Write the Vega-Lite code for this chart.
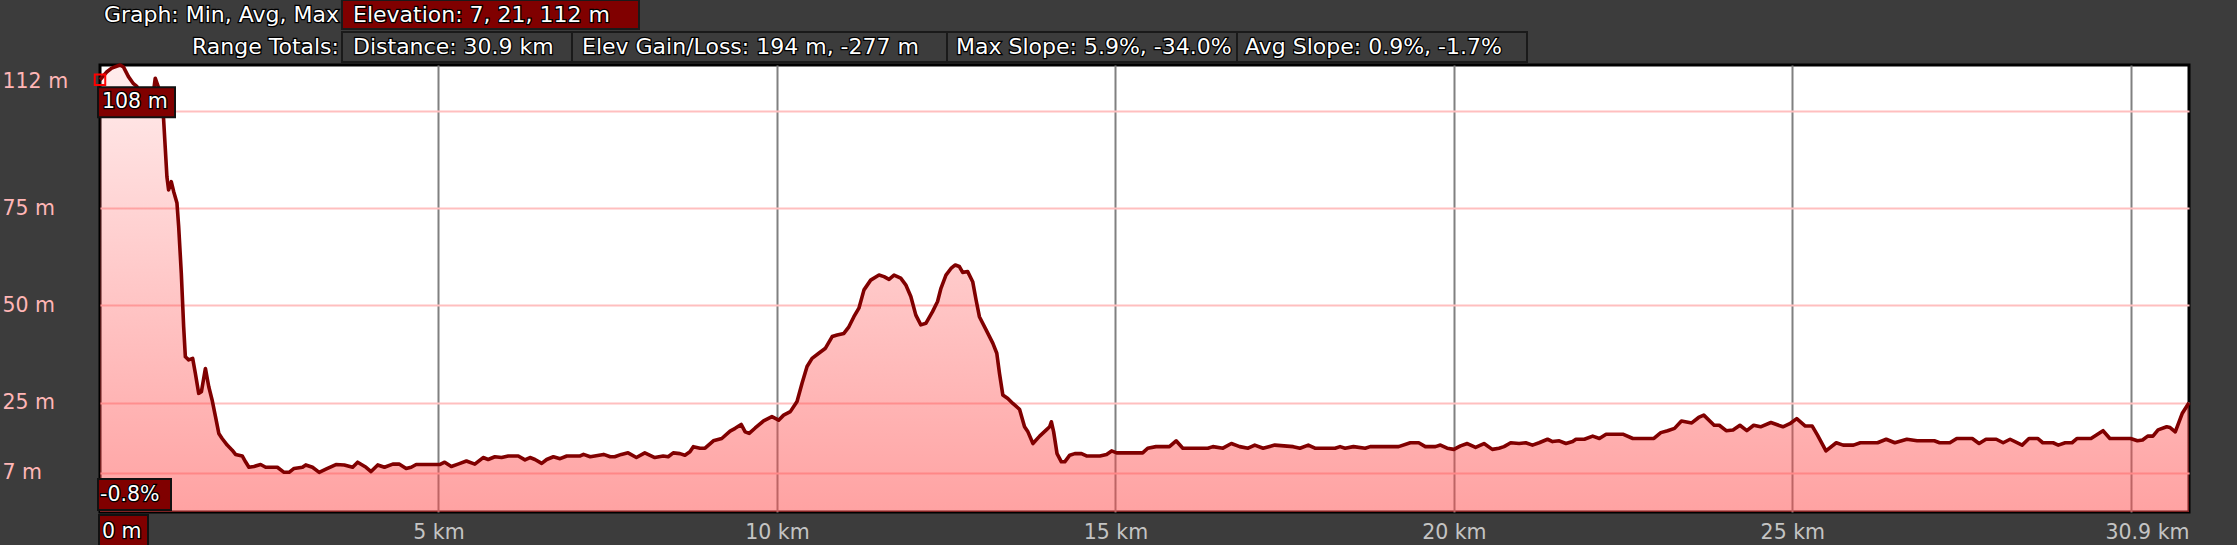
{
  "$schema": "https://vega.github.io/schema/vega-lite/v6.json",
  "width": 2089,
  "height": 447,
  "autosize": {"type": "none"},
  "padding": {"left": 100, "top": 65, "right": 48, "bottom": 33},
  "background": "#3c3c3c",
  "config": {
    "view": {"fill": "white", "stroke": "black", "strokeWidth": 3},
    "font": "DejaVu Sans"
  },
  "datasets": {
    "profile": [
      {"km":0,"elev":108},{"km":0.099,"elev":110},{"km":0.173,"elev":111},{"km":0.297,"elev":111.8},{"km":0.346,"elev":111.3},
      {"km":0.42,"elev":108.8},{"km":0.494,"elev":107},{"km":0.544,"elev":106.3},{"km":0.6,"elev":104},{"km":0.7,"elev":102.5},
      {"km":0.78,"elev":103.5},{"km":0.816,"elev":108.4},{"km":0.865,"elev":106},{"km":0.939,"elev":98},{"km":0.989,"elev":83},
      {"km":1.013,"elev":79.7},{"km":1.053,"elev":81.8},{"km":1.088,"elev":79.3},{"km":1.137,"elev":76.3},{"km":1.162,"elev":70.3},
      {"km":1.201,"elev":58.3},{"km":1.236,"elev":44.5},{"km":1.261,"elev":36.8},{"km":1.31,"elev":36},{"km":1.369,"elev":36.4},
      {"km":1.409,"elev":32.5},{"km":1.458,"elev":27.4},{"km":1.498,"elev":27.8},{"km":1.557,"elev":33.8},{"km":1.607,"elev":29.1},
      {"km":1.656,"elev":25.7},{"km":1.706,"elev":21.4},{"km":1.755,"elev":17.1},{"km":1.804,"elev":15.8},{"km":1.879,"elev":14.1},
      {"km":1.953,"elev":12.8},{"km":2.002,"elev":11.7},{"km":2.101,"elev":11.3},{"km":2.15,"elev":9.8},{"km":2.2,"elev":8.4},
      {"km":2.274,"elev":8.6},{"km":2.373,"elev":9.1},{"km":2.447,"elev":8.4},{"km":2.62,"elev":8.4},{"km":2.719,"elev":7.1},
      {"km":2.793,"elev":7.1},{"km":2.867,"elev":8.1},{"km":2.991,"elev":8.4},{"km":3.04,"elev":9},{"km":3.139,"elev":8.4},
      {"km":3.238,"elev":7.1},{"km":3.337,"elev":7.9},{"km":3.485,"elev":9.1},{"km":3.609,"elev":9},{"km":3.732,"elev":8.4},
      {"km":3.806,"elev":9.7},{"km":3.93,"elev":8.4},{"km":4.004,"elev":7.3},{"km":4.103,"elev":9},{"km":4.202,"elev":8.4},
      {"km":4.325,"elev":9.2},{"km":4.424,"elev":9.2},{"km":4.523,"elev":8.1},{"km":4.597,"elev":8.4},{"km":4.671,"elev":9.1},
      {"km":5.017,"elev":9.1},{"km":5.092,"elev":9.7},{"km":5.19,"elev":8.6},{"km":5.289,"elev":9.2},{"km":5.413,"elev":10},
      {"km":5.537,"elev":9.2},{"km":5.66,"elev":10.9},{"km":5.734,"elev":10.4},{"km":5.833,"elev":11.1},{"km":5.932,"elev":10.9},
      {"km":6.031,"elev":11.3},{"km":6.179,"elev":11.3},{"km":6.278,"elev":10.3},{"km":6.352,"elev":10.9},{"km":6.426,"elev":10.4},
      {"km":6.525,"elev":9.4},{"km":6.599,"elev":10.4},{"km":6.698,"elev":11.1},{"km":6.797,"elev":10.6},{"km":6.896,"elev":11.3},
      {"km":7.094,"elev":11.3},{"km":7.143,"elev":11.7},{"km":7.242,"elev":11.1},{"km":7.44,"elev":11.7},{"km":7.538,"elev":11.1},
      {"km":7.603,"elev":11.1},{"km":7.702,"elev":11.7},{"km":7.801,"elev":12.1},{"km":7.924,"elev":10.9},{"km":8.048,"elev":12.1},
      {"km":8.196,"elev":10.9},{"km":8.32,"elev":11.3},{"km":8.394,"elev":11.1},{"km":8.468,"elev":12.1},{"km":8.567,"elev":11.9},
      {"km":8.641,"elev":11.5},{"km":8.715,"elev":12.4},{"km":8.765,"elev":13.7},{"km":8.864,"elev":13.3},{"km":8.938,"elev":13.3},
      {"km":9.061,"elev":15.2},{"km":9.185,"elev":15.8},{"km":9.308,"elev":17.7},{"km":9.383,"elev":18.4},{"km":9.472,"elev":19.4},
      {"km":9.531,"elev":17.5},{"km":9.59,"elev":17.1},{"km":9.679,"elev":18.5},{"km":9.803,"elev":20.3},{"km":9.926,"elev":21.4},
      {"km":10.025,"elev":20.5},{"km":10.099,"elev":21.8},{"km":10.198,"elev":22.7},{"km":10.297,"elev":25.3},{"km":10.371,"elev":30},
      {"km":10.445,"elev":34.3},{"km":10.519,"elev":36.4},{"km":10.618,"elev":37.7},{"km":10.717,"elev":39},{"km":10.816,"elev":42},
      {"km":10.89,"elev":42.4},{"km":10.989,"elev":42.8},{"km":11.063,"elev":44.5},{"km":11.137,"elev":47.1},{"km":11.211,"elev":49.3},
      {"km":11.286,"elev":54},{"km":11.385,"elev":56.5},{"km":11.508,"elev":57.8},{"km":11.582,"elev":57.4},{"km":11.656,"elev":56.7},
      {"km":11.73,"elev":57.8},{"km":11.829,"elev":57},{"km":11.903,"elev":55.3},{"km":11.978,"elev":52.3},{"km":12.052,"elev":47.5},
      {"km":12.126,"elev":45},{"km":12.2,"elev":45.4},{"km":12.299,"elev":48.4},{"km":12.373,"elev":51},{"km":12.423,"elev":54.4},
      {"km":12.497,"elev":57.8},{"km":12.571,"elev":59.5},{"km":12.635,"elev":60.4},{"km":12.694,"elev":60},{"km":12.744,"elev":58.5},
      {"km":12.818,"elev":58.7},{"km":12.892,"elev":56.1},{"km":12.942,"elev":51.4},{"km":12.991,"elev":47.1},{"km":13.09,"elev":43.7},
      {"km":13.189,"elev":40.3},{"km":13.248,"elev":37.7},{"km":13.288,"elev":32.5},{"km":13.337,"elev":27},{"km":13.411,"elev":26.1},
      {"km":13.485,"elev":24.8},{"km":13.584,"elev":23.3},{"km":13.658,"elev":18.8},{"km":13.708,"elev":17.5},{"km":13.782,"elev":14.5},
      {"km":13.881,"elev":16.4},{"km":13.98,"elev":18},{"km":14.029,"elev":18.8},{"km":14.054,"elev":20.1},{"km":14.088,"elev":17.5},
      {"km":14.138,"elev":11.9},{"km":14.202,"elev":9.8},{"km":14.252,"elev":9.8},{"km":14.326,"elev":11.5},{"km":14.4,"elev":11.9},
      {"km":14.499,"elev":11.9},{"km":14.573,"elev":11.3},{"km":14.771,"elev":11.3},{"km":14.87,"elev":11.7},{"km":14.944,"elev":12.6},
      {"km":15.018,"elev":12.1},{"km":15.279,"elev":12.1},{"km":15.403,"elev":12.1},{"km":15.477,"elev":13.3},{"km":15.6,"elev":13.7},
      {"km":15.798,"elev":13.7},{"km":15.897,"elev":15.2},{"km":15.996,"elev":13.3},{"km":16.366,"elev":13.3},{"km":16.441,"elev":13.7},
      {"km":16.589,"elev":13.3},{"km":16.713,"elev":14.5},{"km":16.836,"elev":13.7},{"km":16.96,"elev":13.3},{"km":17.059,"elev":14.1},
      {"km":17.182,"elev":13.3},{"km":17.355,"elev":14.1},{"km":17.627,"elev":13.7},{"km":17.726,"elev":13.3},{"km":17.849,"elev":14.1},
      {"km":17.948,"elev":13.3},{"km":18.245,"elev":13.3},{"km":18.319,"elev":13.7},{"km":18.393,"elev":13.3},{"km":18.517,"elev":13.7},
      {"km":18.69,"elev":13.3},{"km":18.764,"elev":13.7},{"km":19.184,"elev":13.7},{"km":19.357,"elev":14.7},{"km":19.481,"elev":14.7},
      {"km":19.579,"elev":13.7},{"km":19.728,"elev":13.7},{"km":19.802,"elev":14.1},{"km":19.901,"elev":13.3},{"km":20,"elev":13},
      {"km":20.099,"elev":13.9},{"km":20.198,"elev":14.5},{"km":20.321,"elev":13.5},{"km":20.445,"elev":14.5},{"km":20.568,"elev":13},
      {"km":20.667,"elev":13.3},{"km":20.741,"elev":13.7},{"km":20.84,"elev":14.7},{"km":20.964,"elev":14.5},{"km":21.062,"elev":14.7},
      {"km":21.161,"elev":14.1},{"km":21.26,"elev":14.7},{"km":21.384,"elev":15.6},{"km":21.458,"elev":15},{"km":21.557,"elev":15.2},
      {"km":21.656,"elev":14.5},{"km":21.755,"elev":15},{"km":21.804,"elev":15.6},{"km":21.928,"elev":15.6},{"km":22.051,"elev":16.4},
      {"km":22.15,"elev":15.8},{"km":22.249,"elev":16.9},{"km":22.496,"elev":16.9},{"km":22.644,"elev":15.8},{"km":22.955,"elev":15.8},
      {"km":23.057,"elev":17.3},{"km":23.158,"elev":17.8},{"km":23.26,"elev":18.4},{"km":23.362,"elev":20.3},{"km":23.514,"elev":19.8},
      {"km":23.616,"elev":21.2},{"km":23.692,"elev":21.8},{"km":23.845,"elev":19.2},{"km":23.921,"elev":19.2},{"km":24.023,"elev":17.8},
      {"km":24.124,"elev":18},{"km":24.226,"elev":19.2},{"km":24.328,"elev":17.8},{"km":24.429,"elev":19.2},{"km":24.531,"elev":18.8},
      {"km":24.684,"elev":19.9},{"km":24.861,"elev":18.8},{"km":24.963,"elev":19.6},{"km":25.065,"elev":20.9},{"km":25.192,"elev":19},
      {"km":25.294,"elev":19},{"km":25.37,"elev":16.7},{"km":25.497,"elev":12.6},{"km":25.649,"elev":14.7},{"km":25.751,"elev":14.1},
      {"km":25.904,"elev":14.1},{"km":26.005,"elev":14.7},{"km":26.259,"elev":14.7},{"km":26.387,"elev":15.6},{"km":26.514,"elev":14.7},
      {"km":26.692,"elev":15.6},{"km":26.844,"elev":15.2},{"km":27.098,"elev":15.2},{"km":27.175,"elev":14.7},{"km":27.327,"elev":14.7},
      {"km":27.429,"elev":15.8},{"km":27.658,"elev":15.8},{"km":27.759,"elev":14.5},{"km":27.861,"elev":15.6},{"km":28.013,"elev":15.6},
      {"km":28.115,"elev":14.7},{"km":28.217,"elev":15.6},{"km":28.395,"elev":14.1},{"km":28.496,"elev":15.8},{"km":28.624,"elev":15.8},
      {"km":28.7,"elev":14.7},{"km":28.853,"elev":14.7},{"km":28.929,"elev":14.1},{"km":29.031,"elev":14.7},{"km":29.132,"elev":14.7},
      {"km":29.208,"elev":15.8},{"km":29.412,"elev":15.8},{"km":29.59,"elev":17.8},{"km":29.691,"elev":15.8},{"km":29.996,"elev":15.8},
      {"km":30.098,"elev":15.2},{"km":30.174,"elev":15.4},{"km":30.25,"elev":16.4},{"km":30.327,"elev":16.4},{"km":30.403,"elev":18},
      {"km":30.53,"elev":18.8},{"km":30.581,"elev":18.6},{"km":30.657,"elev":17.5},{"km":30.759,"elev":22.2},{"km":30.86,"elev":25}
    ]
  },
  "layer": [
    {
      "data": {"name": "profile"},
      "mark": {
        "type": "area",
        "interpolate": "linear",
        "color": {
          "gradient": "linear", "x1": 0, "y1": 0, "x2": 0, "y2": 1,
          "stops": [
            {"offset": 0, "color": "rgba(255,70,70,0.10)"},
            {"offset": 1, "color": "rgba(255,70,70,0.50)"}
          ]
        }
      },
      "encoding": {
        "x": {
          "field": "km", "type": "quantitative",
          "scale": {"domain": [0, 30.86], "nice": false, "zero": false},
          "axis": {
            "values": [0, 5, 10, 15, 20, 25, 30, 30.86],
            "labelExpr": "datum.value == 0 || datum.value == 30 ? '' : (datum.value > 30.5 ? '30.9 km' : datum.value + ' km')",
            "title": null, "domain": false, "ticks": false, "tickSize": 0,
            "grid": true, "gridColor": "#808080", "gridWidth": 2,
            "gridOpacity": {"condition": {"test": "datum.value == 0 || datum.value > 30.5", "value": 0}, "value": 1},
            "labelFlush": true, "labelOverlap": false, "labelPadding": 20, "labelBaseline": "middle",
            "labelColor": "#c4c4c4", "labelFontSize": 20.5
          }
        },
        "y": {
          "field": "elev", "type": "quantitative",
          "scale": {"domain": [-3.1, 111.8], "nice": false, "zero": false},
          "axis": {
            "values": [7, 25, 50, 75, 100, 111.8],
            "labelExpr": "datum.value == 100 ? '' : (datum.value > 111 ? '112 m' : datum.value + ' m')",
            "title": null, "domain": false, "ticks": false, "tickSize": 0,
            "grid": true, "gridColor": "#ffbfbf", "gridWidth": 2,
            "gridOpacity": {"condition": {"test": "datum.value > 111", "value": 0}, "value": 1},
            "labelAlign": "left", "labelPadding": 98, "labelFlush": true, "labelFlushOffset": -6,
            "labelOverlap": false, "labelColor": "#ffb6b6", "labelFontSize": 20.5
          }
        },
        "y2": {"datum": -3.1}
      }
    },
    {
      "data": {"name": "profile"},
      "mark": {"type": "line", "color": "#800000", "strokeWidth": 3.6, "interpolate": "linear", "strokeJoin": "round"},
      "encoding": {
        "x": {"field": "km", "type": "quantitative"},
        "y": {"field": "elev", "type": "quantitative"}
      }
    },
    {
      "data": {"name": "profile"},
      "transform": [{"filter": "datum.km == 0"}],
      "mark": {"type": "point", "shape": "square", "size": 110, "filled": false, "stroke": "#ff0000", "strokeWidth": 2, "opacity": 1},
      "encoding": {
        "x": {"field": "km", "type": "quantitative"},
        "y": {"field": "elev", "type": "quantitative"}
      }
    },
    {
      "data": {"values": [{"t": "108 m"}]},
      "layer": [
        {"mark": {"type": "rect", "fill": "#800000", "stroke": "#111111", "strokeWidth": 2, "xOffset": -2, "x2Offset": 75, "yOffset": 7.5, "y2Offset": 37.5},
         "encoding": {"x": {"datum": 0}, "x2": {"datum": 0}, "y": {"datum": 108}, "y2": {"datum": 108}}},
        {"mark": {"type": "text", "color": "black", "stroke": "black", "strokeWidth": 2.5, "fontSize": 20.5, "align": "left", "baseline": "middle", "dx": 2, "dy": 22.5},
         "encoding": {"x": {"datum": 0}, "y": {"datum": 108}, "text": {"field": "t"}}},
        {"mark": {"type": "text", "color": "white", "fontSize": 20.5, "align": "left", "baseline": "middle", "dx": 2, "dy": 22.5},
         "encoding": {"x": {"datum": 0}, "y": {"datum": 108}, "text": {"field": "t"}}}
      ]
    },
    {
      "data": {"values": [{"t": "-0.8%"}]},
      "layer": [
        {"mark": {"type": "rect", "fill": "#800000", "stroke": "#111111", "strokeWidth": 2, "xOffset": -2, "x2Offset": 71, "yOffset": -33, "y2Offset": -2},
         "encoding": {"x": {"datum": 0}, "x2": {"datum": 0}, "y": {"datum": -3.1}, "y2": {"datum": -3.1}}},
        {"mark": {"type": "text", "color": "black", "stroke": "black", "strokeWidth": 2.5, "fontSize": 20.5, "align": "left", "baseline": "middle", "dx": 0, "dy": -17},
         "encoding": {"x": {"datum": 0}, "y": {"datum": -3.1}, "text": {"field": "t"}}},
        {"mark": {"type": "text", "color": "white", "fontSize": 20.5, "align": "left", "baseline": "middle", "dx": 0, "dy": -17},
         "encoding": {"x": {"datum": 0}, "y": {"datum": -3.1}, "text": {"field": "t"}}}
      ]
    },
    {
      "data": {"values": [{"t": "0 m"}]},
      "layer": [
        {"mark": {"type": "rect", "fill": "#800000", "stroke": "#111111", "strokeWidth": 2, "xOffset": -1, "x2Offset": 48, "yOffset": 3, "y2Offset": 34},
         "encoding": {"x": {"datum": 0}, "x2": {"datum": 0}, "y": {"datum": -3.1}, "y2": {"datum": -3.1}}},
        {"mark": {"type": "text", "color": "black", "stroke": "black", "strokeWidth": 2.5, "fontSize": 20.5, "align": "left", "baseline": "middle", "dx": 2, "dy": 19.5},
         "encoding": {"x": {"datum": 0}, "y": {"datum": -3.1}, "text": {"field": "t"}}},
        {"mark": {"type": "text", "color": "white", "fontSize": 20.5, "align": "left", "baseline": "middle", "dx": 2, "dy": 19.5},
         "encoding": {"x": {"datum": 0}, "y": {"datum": -3.1}, "text": {"field": "t"}}}
      ]
    },
    {
      "data": {"values": [{"t": "Graph: Min, Avg, Max"}]},
      "layer": [
        {"mark": {"type": "text", "color": "black", "stroke": "black", "strokeWidth": 2.5, "fontSize": 22, "align": "right", "baseline": "middle", "dx": 239, "dy": -50},
         "encoding": {"x": {"datum": 0}, "y": {"datum": 111.8}, "text": {"field": "t"}}},
        {"mark": {"type": "text", "color": "white", "fontSize": 22, "align": "right", "baseline": "middle", "dx": 239, "dy": -50},
         "encoding": {"x": {"datum": 0}, "y": {"datum": 111.8}, "text": {"field": "t"}}}
      ]
    },
    {
      "data": {"values": [{"t": "Elevation: 7, 21, 112 m"}]},
      "layer": [
        {"mark": {"type": "rect", "fill": "#800000", "stroke": "#1a1a1a", "strokeWidth": 2, "xOffset": 242, "x2Offset": 539, "yOffset": -65, "y2Offset": -36},
         "encoding": {"x": {"datum": 0}, "x2": {"datum": 0}, "y": {"datum": 111.8}, "y2": {"datum": 111.8}}},
        {"mark": {"type": "text", "color": "black", "stroke": "black", "strokeWidth": 2.5, "fontSize": 22, "align": "left", "baseline": "middle", "dx": 253, "dy": -50},
         "encoding": {"x": {"datum": 0}, "y": {"datum": 111.8}, "text": {"field": "t"}}},
        {"mark": {"type": "text", "color": "white", "fontSize": 22, "align": "left", "baseline": "middle", "dx": 253, "dy": -50},
         "encoding": {"x": {"datum": 0}, "y": {"datum": 111.8}, "text": {"field": "t"}}}
      ]
    },
    {
      "data": {"values": [{"t": "Range Totals:"}]},
      "layer": [
        {"mark": {"type": "text", "color": "black", "stroke": "black", "strokeWidth": 2.5, "fontSize": 22, "align": "right", "baseline": "middle", "dx": 239, "dy": -18},
         "encoding": {"x": {"datum": 0}, "y": {"datum": 111.8}, "text": {"field": "t"}}},
        {"mark": {"type": "text", "color": "white", "fontSize": 22, "align": "right", "baseline": "middle", "dx": 239, "dy": -18},
         "encoding": {"x": {"datum": 0}, "y": {"datum": 111.8}, "text": {"field": "t"}}}
      ]
    },
    {
      "data": {"values": [{"t": "Distance: 30.9 km"}]},
      "layer": [
        {"mark": {"type": "rect", "fill": "#3c3c3c", "stroke": "#1a1a1a", "strokeWidth": 2, "xOffset": 242, "x2Offset": 472, "yOffset": -33, "y2Offset": -3},
         "encoding": {"x": {"datum": 0}, "x2": {"datum": 0}, "y": {"datum": 111.8}, "y2": {"datum": 111.8}}},
        {"mark": {"type": "text", "color": "black", "stroke": "black", "strokeWidth": 2.5, "fontSize": 22, "align": "left", "baseline": "middle", "dx": 253, "dy": -18},
         "encoding": {"x": {"datum": 0}, "y": {"datum": 111.8}, "text": {"field": "t"}}},
        {"mark": {"type": "text", "color": "white", "fontSize": 22, "align": "left", "baseline": "middle", "dx": 253, "dy": -18},
         "encoding": {"x": {"datum": 0}, "y": {"datum": 111.8}, "text": {"field": "t"}}}
      ]
    },
    {
      "data": {"values": [{"t": "Elev Gain/Loss: 194 m, -277 m"}]},
      "layer": [
        {"mark": {"type": "rect", "fill": "#3c3c3c", "stroke": "#1a1a1a", "strokeWidth": 2, "xOffset": 472, "x2Offset": 847, "yOffset": -33, "y2Offset": -3},
         "encoding": {"x": {"datum": 0}, "x2": {"datum": 0}, "y": {"datum": 111.8}, "y2": {"datum": 111.8}}},
        {"mark": {"type": "text", "color": "black", "stroke": "black", "strokeWidth": 2.5, "fontSize": 22, "align": "left", "baseline": "middle", "dx": 482, "dy": -18},
         "encoding": {"x": {"datum": 0}, "y": {"datum": 111.8}, "text": {"field": "t"}}},
        {"mark": {"type": "text", "color": "white", "fontSize": 22, "align": "left", "baseline": "middle", "dx": 482, "dy": -18},
         "encoding": {"x": {"datum": 0}, "y": {"datum": 111.8}, "text": {"field": "t"}}}
      ]
    },
    {
      "data": {"values": [{"t": "Max Slope: 5.9%, -34.0%"}]},
      "layer": [
        {"mark": {"type": "rect", "fill": "#3c3c3c", "stroke": "#1a1a1a", "strokeWidth": 2, "xOffset": 847, "x2Offset": 1137, "yOffset": -33, "y2Offset": -3},
         "encoding": {"x": {"datum": 0}, "x2": {"datum": 0}, "y": {"datum": 111.8}, "y2": {"datum": 111.8}}},
        {"mark": {"type": "text", "color": "black", "stroke": "black", "strokeWidth": 2.5, "fontSize": 22, "align": "left", "baseline": "middle", "dx": 856, "dy": -18},
         "encoding": {"x": {"datum": 0}, "y": {"datum": 111.8}, "text": {"field": "t"}}},
        {"mark": {"type": "text", "color": "white", "fontSize": 22, "align": "left", "baseline": "middle", "dx": 856, "dy": -18},
         "encoding": {"x": {"datum": 0}, "y": {"datum": 111.8}, "text": {"field": "t"}}}
      ]
    },
    {
      "data": {"values": [{"t": "Avg Slope: 0.9%, -1.7%"}]},
      "layer": [
        {"mark": {"type": "rect", "fill": "#3c3c3c", "stroke": "#1a1a1a", "strokeWidth": 2, "xOffset": 1137, "x2Offset": 1427, "yOffset": -33, "y2Offset": -3},
         "encoding": {"x": {"datum": 0}, "x2": {"datum": 0}, "y": {"datum": 111.8}, "y2": {"datum": 111.8}}},
        {"mark": {"type": "text", "color": "black", "stroke": "black", "strokeWidth": 2.5, "fontSize": 22, "align": "left", "baseline": "middle", "dx": 1145, "dy": -18},
         "encoding": {"x": {"datum": 0}, "y": {"datum": 111.8}, "text": {"field": "t"}}},
        {"mark": {"type": "text", "color": "white", "fontSize": 22, "align": "left", "baseline": "middle", "dx": 1145, "dy": -18},
         "encoding": {"x": {"datum": 0}, "y": {"datum": 111.8}, "text": {"field": "t"}}}
      ]
    }
  ]
}
